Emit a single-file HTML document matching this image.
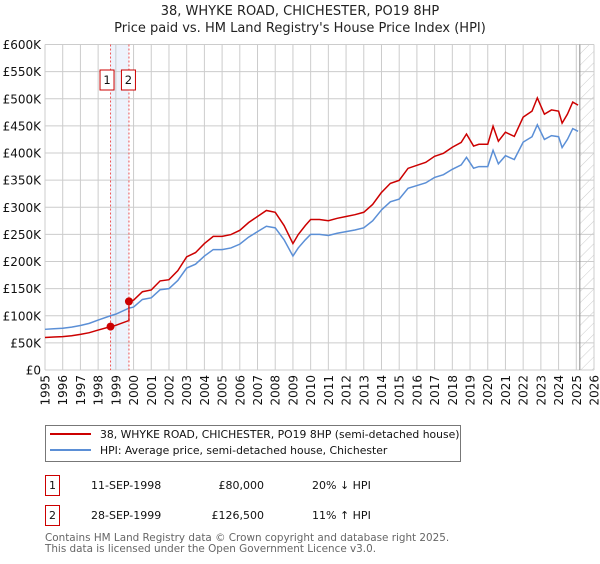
<!DOCTYPE html>
<html><head><meta charset="utf-8"><style>
body{margin:0;background:#fff;font-family:"DejaVu Sans","Liberation Sans",sans-serif;}
svg text{font-family:"DejaVu Sans","Liberation Sans",sans-serif;}
</style></head><body>
<svg id="chart" width="600" height="560" xmlns="http://www.w3.org/2000/svg">
<defs><pattern id="hatch" width="8" height="8" patternUnits="userSpaceOnUse" patternTransform="rotate(45)"><line x1="0" y1="0" x2="0" y2="8" stroke="#ccc" stroke-width="1"/></pattern></defs>
<text x="300" y="15" text-anchor="middle" font-size="13" fill="#222">38, WHYKE ROAD, CHICHESTER, PO19 8HP</text>
<text x="300" y="32" text-anchor="middle" font-size="13" fill="#222">Price paid vs. HM Land Registry's House Price Index (HPI)</text>
<g id="grid"></g><g id="axes"></g><g id="series"></g><g id="marks"></g>
<rect x="45.5" y="425.5" width="415" height="36" fill="#fff" stroke="#777"/>
<line x1="50" y1="434" x2="91" y2="434" stroke="#cc0000" stroke-width="2"/>
<text x="100" y="438" font-size="10.8" fill="#111">38, WHYKE ROAD, CHICHESTER, PO19 8HP (semi-detached house)</text>
<line x1="50" y1="450" x2="91" y2="450" stroke="#5b8fd6" stroke-width="2"/>
<text x="100" y="454" font-size="10.8" fill="#111">HPI: Average price, semi-detached house, Chichester</text>
<rect x="45.5" y="475.5" width="14" height="20" fill="#fff" stroke="#cc0000"/>
<text x="52.5" y="489" text-anchor="middle" font-size="11" fill="#111">1</text>
<text x="91" y="489" font-size="11" fill="#111">11-SEP-1998</text>
<text x="264" y="489" text-anchor="end" font-size="11" fill="#111">£80,000</text>
<text x="312" y="489" font-size="11" fill="#111">20% ↓ HPI</text>
<rect x="45.5" y="505.5" width="14" height="20" fill="#fff" stroke="#cc0000"/>
<text x="52.5" y="519" text-anchor="middle" font-size="11" fill="#111">2</text>
<text x="91" y="519" font-size="11" fill="#111">28-SEP-1999</text>
<text x="264" y="519" text-anchor="end" font-size="11" fill="#111">£126,500</text>
<text x="312" y="519" font-size="11" fill="#111">11% ↑ HPI</text>
<text x="45" y="541" font-size="10.4" fill="#666">Contains HM Land Registry data © Crown copyright and database right 2025.</text>
<text x="45" y="552" font-size="10.4" fill="#666">This data is licensed under the Open Government Licence v3.0.</text>
</svg>
<script>
const hpiYears=[1995,1995.5,1996,1996.5,1997,1997.5,1998,1998.7,1999,1999.74,2000,2000.5,2001,2001.5,2002,2002.5,2003,2003.5,2004,2004.5,2005,2005.5,2006,2006.5,2007,2007.5,2008,2008.5,2009,2009.3,2009.7,2010,2010.5,2011,2011.5,2012,2012.5,2013,2013.5,2014,2014.5,2015,2015.5,2016,2016.5,2017,2017.5,2018,2018.5,2018.8,2019.2,2019.5,2020,2020.3,2020.6,2021,2021.5,2022,2022.5,2022.8,2023.2,2023.6,2024,2024.2,2024.5,2024.8,2025.1];
const hpiValues=[75000,76000,77000,79000,82000,86000,92000,100000,103000,114000,116000,130000,133000,148000,150000,165000,188000,195000,210000,222000,222000,225000,232000,245000,255000,265000,262000,240000,210000,225000,240000,250000,250000,248000,252000,255000,258000,262000,275000,295000,310000,315000,335000,340000,345000,355000,360000,370000,378000,392000,372000,375000,375000,405000,380000,395000,388000,420000,430000,452000,425000,432000,430000,410000,425000,445000,440000];
const saleYears=[1998.7,1999.74];
const salePrices=[80000,126500];
const saleLabels=["1","2"];
const yTicks=[0,50000,100000,150000,200000,250000,300000,350000,400000,450000,500000,550000,600000];
const yTickLabels=["£0","£50K","£100K","£150K","£200K","£250K","£300K","£350K","£400K","£450K","£500K","£550K","£600K"];
const xTicks=[1995,1996,1997,1998,1999,2000,2001,2002,2003,2004,2005,2006,2007,2008,2009,2010,2011,2012,2013,2014,2015,2016,2017,2018,2019,2020,2021,2022,2023,2024,2025,2026];
const dataEnd=2025.2;
const NS="http://www.w3.org/2000/svg";
const L=45,R=594,T=44.5,B=370;
const xs=y=>L+(y-1995)/(2026-1995)*(R-L);
const ys=v=>B-v/600000*(B-T);
function mk(tag,attrs,parent){const e=document.createElementNS(NS,tag);for(const k in attrs)e.setAttribute(k,attrs[k]);parent.appendChild(e);return e;}
const grid=document.getElementById('grid'),axes=document.getElementById('axes'),series=document.getElementById('series'),marks=document.getElementById('marks');
let band=mk('rect',{x:xs(saleYears[0]),y:T,width:xs(saleYears[1])-xs(saleYears[0]),height:B-T,fill:'#eef3fc'},grid);


yTicks.forEach((t,i)=>{
 let g=mk('line',{x1:L,x2:R,y1:ys(t),y2:ys(t),stroke:'#ccc','stroke-width':1},grid);
 
 
 let tx=mk('text',{x:L-4,y:ys(t)+4.5,'text-anchor':'end','font-size':12,fill:'#111'},axes);
 tx.textContent=yTickLabels[i];
 
 
});
xTicks.forEach(t=>{
 let g=mk('line',{x1:xs(t),x2:xs(t),y1:T,y2:B,stroke:'#ccc','stroke-width':1},grid);
 
 
 let tx=mk('text',{x:0,y:0,'text-anchor':'end','font-size':12,fill:'#111',transform:`translate(${xs(t)+4.5},${B+5}) rotate(-90)`},axes);
 tx.textContent=t;
 
 
});
let hz=mk('rect',{x:xs(dataEnd),y:T,width:R-xs(dataEnd),height:B-T,fill:'url(#hatch)'},grid);


let el=mk('line',{x1:xs(dataEnd),x2:xs(dataEnd),y1:T,y2:B,stroke:'#888','stroke-width':1},grid);


function interp(y){for(let i=0;i<hpiYears.length-1;i++){if(y<=hpiYears[i+1]){const f=(y-hpiYears[i])/(hpiYears[i+1]-hpiYears[i]);return hpiValues[i]+f*(hpiValues[i+1]-hpiValues[i]);}}return hpiValues[hpiValues.length-1];}
let hp=mk('polyline',{points:hpiYears.map((y,i)=>xs(y)+','+ys(hpiValues[i])).join(' '),fill:'none',stroke:'#5b8fd6','stroke-width':1.5},series);


const ratios=saleYears.map((y,i)=>salePrices[i]/interp(y));
let pts=[];
hpiYears.forEach((y,i)=>{
 if(y<saleYears[1]) pts.push([y,hpiValues[i]*ratios[0]]);
 else pts.push([y,hpiValues[i]*ratios[1]]);
});
pts.splice(pts.findIndex(p=>p[0]>=saleYears[1]),0,[saleYears[1],interp(saleYears[1])*ratios[0]]);
let pp=mk('polyline',{points:pts.map(p=>xs(p[0])+','+ys(p[1])).join(' '),fill:'none',stroke:'#cc0000','stroke-width':1.5},series);


saleYears.forEach((y,i)=>{
 let v=mk('line',{x1:xs(y),x2:xs(y),y1:T,y2:B,stroke:'#ee5555','stroke-width':1,'stroke-dasharray':'2,2'},marks);
 
 
 let d=mk('circle',{cx:xs(y),cy:ys(salePrices[i]),r:4,fill:'#cc0000'},marks);
 
 
 let bx=i===0?xs(y)-10.5:xs(y)-7.5;
 let b=mk('rect',{x:bx,y:70,width:14,height:20,fill:'#fff',stroke:'#cc0000'},marks);
 
 
 let t=mk('text',{x:bx+7,y:84,'text-anchor':'middle','font-size':11.5,fill:'#111'},marks);
 t.textContent=saleLabels[i];
 
 
});
</script>
</body></html>
